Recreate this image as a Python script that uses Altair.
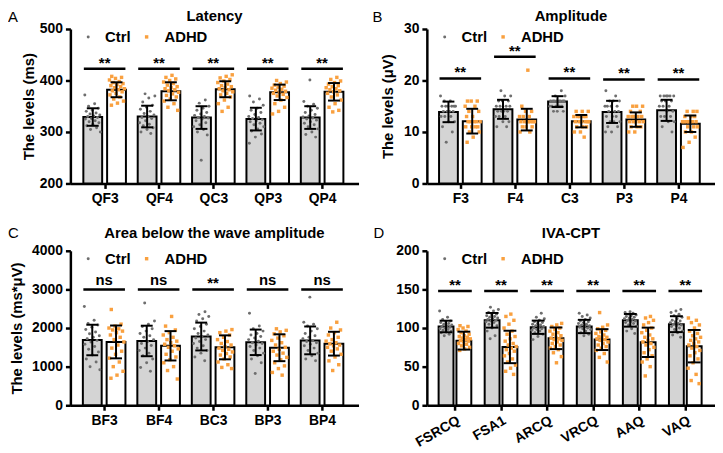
import altair as alt
import pandas as pd

FONT = "Arial"
ORANGE = "#f9a03f"
GRAY_PT = "#6e6e6e"
BAR_GRAY = "#d4d4d4"

# ---------------- Panel A : Latency ----------------
a_cats = ["QF3", "QF4", "QC3", "QP3", "QP4"]
a_ctrl_mean = [329, 330, 328, 325, 328]
a_ctrl_sd = [17, 21, 22, 22, 22]
a_adhd_mean = [382, 379, 383, 377, 378]
a_adhd_sd = [14.5, 17.5, 15.5, 15, 17]
a_sig = ["**", "**", "**", "**", "**"]
a_sig_y = [423, 423, 423, 423, 423]
a_ctrl_pts = [
    [372, 355, 350, 346, 342, 340, 337, 335, 333, 331, 330, 328, 326, 325, 322, 320, 318, 315, 312, 308, 305, 300],
    [374, 370, 366, 358, 352, 348, 344, 340, 336, 333, 330, 328, 326, 322, 318, 315, 312, 308, 305, 300, 297],
    [362, 356, 350, 346, 342, 338, 335, 332, 330, 328, 327, 325, 322, 318, 314, 310, 305, 300, 294, 245],
    [370, 364, 358, 352, 346, 342, 338, 334, 330, 328, 326, 324, 322, 320, 317, 314, 310, 306, 302, 296, 290, 278],
    [401, 359, 354, 350, 346, 342, 338, 334, 331, 329, 327, 325, 323, 320, 317, 314, 310, 306, 300, 295, 290],
]
a_adhd_pts = [
    [408, 406, 404, 401, 398, 396, 394, 392, 390, 388, 386, 384, 382, 380, 378, 375, 372, 368, 364, 360, 356, 352],
    [410, 406, 403, 400, 397, 394, 391, 388, 386, 384, 382, 380, 377, 374, 371, 368, 364, 360, 355, 348, 342],
    [411, 408, 405, 402, 399, 396, 393, 390, 388, 386, 384, 382, 380, 378, 375, 372, 368, 362, 355, 348, 340],
    [400, 397, 394, 391, 389, 387, 385, 383, 381, 379, 377, 375, 373, 370, 367, 362, 355, 348, 340, 335],
    [406, 402, 399, 396, 393, 390, 388, 386, 384, 382, 380, 378, 375, 372, 368, 362, 355, 348, 342, 339],
]

# ---------------- Panel B : Amplitude ----------------
b_cats = ["F3", "F4", "C3", "P3", "P4"]
b_ctrl_mean = [13.9, 14.4, 15.9, 13.9, 14.2]
b_ctrl_sd = [2.0, 1.85, 1.05, 2.15, 2.05]
b_adhd_mean = [12.1, 12.4, 12.1, 12.4, 11.6]
b_adhd_sd = [2.4, 2.1, 1.2, 1.4, 1.6]
b_sig = ["**", "**", "**", "**", "**"]
b_sig_y = [20.4, 24.6, 20.4, 20.2, 20.2]
b_ctrl_pts = [
    [17, 16, 16, 15, 15, 15, 15, 15, 15, 14, 14, 14, 14, 13, 13, 13, 12, 12, 11, 10, 8],
    [18, 17, 17, 16, 16, 16, 15, 15, 15, 15, 14, 14, 14, 14, 13, 13, 13, 12, 12, 11, 11],
    [18, 17, 17, 16, 16, 16, 16, 16, 16, 16, 16, 15, 15, 15, 15, 15, 15, 14, 14, 14],
    [18, 17, 16, 16, 16, 15, 15, 15, 15, 14, 14, 14, 13, 13, 13, 12, 12, 12, 11, 11, 10, 10],
    [17, 17, 17, 17, 17, 17, 16, 16, 16, 15, 15, 15, 14, 14, 13, 13, 13, 12, 12, 11, 10],
]
b_adhd_pts = [
    [16, 16, 16, 15, 15, 14, 14, 13, 13, 12, 12, 12, 12, 12, 11, 11, 11, 11, 10, 10, 9, 8],
    [22, 15, 14, 14, 13, 13, 13, 12, 12, 12, 12, 12, 12, 12, 11, 11, 11, 10, 10],
    [14, 14, 14, 13, 13, 13, 13, 13, 12, 12, 12, 12, 12, 12, 11, 11, 11, 10, 10, 9],
    [15, 15, 15, 14, 14, 13, 13, 13, 13, 13, 12, 12, 12, 12, 12, 11, 11, 11, 10, 10],
    [14, 14, 14, 13, 13, 13, 12, 12, 12, 12, 12, 12, 12, 11, 11, 11, 10, 10, 9, 8, 7],
]

# ---------------- Panel C : Area below the wave amplitude ----------------
c_cats = ["BF3", "BF4", "BC3", "BP3", "BP4"]
c_ctrl_mean = [1690, 1665, 1780, 1630, 1680]
c_ctrl_sd = [395, 395, 360, 330, 360]
c_adhd_mean = [1640, 1540, 1500, 1490, 1595]
c_adhd_sd = [425, 380, 310, 348, 308]
c_sig = ["ns", "ns", "**", "ns", "ns"]
c_sig_y = [3000, 3000, 3000, 3000, 3000]
c_ctrl_pts = [
    [2560, 2200, 2120, 2080, 2020, 1960, 1900, 1850, 1800, 1760, 1720, 1680, 1640, 1580, 1520, 1450, 1380, 1300, 1200, 1120, 1000, 920],
    [2650, 2180, 2100, 2040, 1980, 1920, 1860, 1800, 1760, 1700, 1650, 1600, 1550, 1480, 1420, 1350, 1280, 1200, 1100, 980, 880],
    [2420, 2350, 2300, 2240, 2180, 2100, 2040, 1980, 1920, 1860, 1820, 1780, 1740, 1700, 1650, 1600, 1540, 1480, 1420, 1350, 1250, 1150],
    [2380, 2050, 1980, 1920, 1860, 1820, 1780, 1740, 1700, 1660, 1620, 1600, 1560, 1520, 1480, 1420, 1350, 1280, 1200, 1100, 820],
    [2800, 2150, 2100, 2050, 1980, 1920, 1860, 1800, 1760, 1720, 1680, 1650, 1620, 1580, 1540, 1480, 1420, 1350, 1280, 1200, 1150],
]
c_adhd_pts = [
    [2480, 2100, 2050, 2000, 1980, 1950, 1920, 1880, 1820, 1760, 1700, 1640, 1560, 1480, 1400, 1320, 1220, 1120, 1000, 880, 780, 700],
    [2300, 2050, 1950, 1880, 1820, 1760, 1700, 1660, 1620, 1580, 1540, 1500, 1460, 1400, 1320, 1250, 1180, 1100, 1000, 900, 680],
    [1960, 1920, 1880, 1820, 1760, 1700, 1650, 1600, 1560, 1520, 1480, 1450, 1420, 1380, 1340, 1300, 1250, 1200, 1120, 1050, 980, 950],
    [1980, 1940, 1900, 1850, 1800, 1740, 1680, 1620, 1560, 1500, 1450, 1400, 1350, 1300, 1240, 1180, 1100, 1020, 950, 850, 780],
    [2150, 2000, 1950, 1880, 1820, 1760, 1700, 1660, 1620, 1590, 1560, 1540, 1500, 1460, 1400, 1320, 1250, 1150, 1050, 900],
]

# ---------------- Panel D : IVA-CPT ----------------
d_cats = ["FSRCQ", "FSA1", "ARCQ", "VRCQ", "AAQ", "VAQ"]
d_ctrl_mean = [102, 110, 101, 102, 110, 105]
d_ctrl_sd = [7.5, 9.5, 8.6, 8.6, 8.2, 10.3]
d_adhd_mean = [83.7, 75.5, 86.7, 85, 81.5, 76.5]
d_adhd_sd = [11.6, 21, 14, 13.5, 19, 21]
d_sig = ["**", "**", "**", "**", "**", "**"]
d_sig_y = [148, 148, 148, 148, 148, 148]
d_ctrl_pts = [
    [122, 114, 111, 109, 108, 107, 106, 105, 104, 103, 102, 101, 100, 99, 98, 97, 96, 95, 94, 92, 90],
    [127, 124, 122, 120, 118, 117, 116, 115, 114, 113, 112, 111, 110, 109, 108, 107, 105, 103, 100, 96, 90, 86],
    [119, 114, 112, 110, 108, 107, 106, 105, 104, 103, 102, 101, 100, 99, 98, 97, 96, 94, 92, 89, 85],
    [119, 117, 115, 113, 111, 109, 108, 107, 106, 105, 104, 103, 102, 101, 100, 99, 98, 96, 94, 92, 90],
    [121, 120, 119, 118, 117, 116, 115, 114, 113, 112, 111, 110, 109, 108, 107, 106, 104, 102, 99, 96, 93],
    [124, 122, 120, 118, 116, 114, 112, 110, 109, 108, 107, 106, 105, 104, 103, 102, 100, 98, 96, 94, 91, 88],
]
d_adhd_pts = [
    [103, 102, 100, 98, 96, 94, 92, 90, 89, 88, 87, 86, 85, 84, 83, 82, 80, 79, 77, 75, 73, 71],
    [118, 115, 110, 105, 100, 96, 92, 89, 86, 83, 80, 78, 76, 74, 72, 70, 67, 64, 60, 56, 52, 48, 44, 40],
    [106, 104, 102, 100, 98, 96, 94, 92, 90, 88, 87, 86, 85, 84, 82, 80, 78, 76, 74, 72, 68, 63, 55],
    [120, 104, 101, 99, 97, 95, 93, 91, 89, 88, 87, 86, 85, 84, 82, 80, 78, 76, 74, 71, 67, 62, 56],
    [115, 113, 110, 107, 104, 100, 97, 94, 91, 88, 86, 84, 82, 80, 78, 75, 72, 68, 64, 60, 56, 50, 38],
    [113, 110, 107, 104, 100, 96, 93, 90, 88, 86, 84, 82, 80, 78, 76, 74, 71, 68, 64, 60, 55, 48, 40, 32, 28],
]

W, H = 291, 156


def make_panel(cats, cm, cs, am, asd, sig, sig_y, cpts, apts, ydom, yticks,
               ytitle, title, letter, xdom, bar_px, cap_px, sig_px, jit_px,
               title_pad, letter_dx, title_y, letter_y, label_angle=0):
    n = len(cats)
    ppu = W / (xdom[1] - xdom[0])
    ppy = H / (ydom[1] - ydom[0])
    inner, outer = bar_px
    bars, caps, pts_c, pts_a, sigs = [], [], [], [], []
    for i in range(n):
        for side, grp, m, s, arr, store in [(-1, "Ctrl", cm[i], cs[i], cpts[i], pts_c),
                                           (1, "ADHD", am[i], asd[i], apts[i], pts_a)]:
            e0 = i + side * inner / ppu
            e1 = i + side * outer / ppu
            xc = i + side * (inner + outer) / 2 / ppu
            bars.append(dict(x0=min(e0, e1), x1=max(e0, e1), xc=xc, mean=m,
                             lo=m - s, hi=m + s, group=grp))
            for yv in (m - s, m + s):
                caps.append(dict(x0=xc - cap_px / ppu, x1=xc + cap_px / ppu, y=yv))
            for k, v in enumerate(arr):
                jit = ((k * 0.618034 + i * 0.37 + (0.2 if side > 0 else 0)) % 1 - 0.5) * 2 * jit_px / ppu
                store.append(dict(x=xc + jit, y=v))
        lab = sig[i]
        dpx = 1 if lab == "**" else 4
        sigs.append(dict(x0=i - sig_px / ppu, x1=i + sig_px / ppu, xc=i, y=sig_y[i],
                         ty=sig_y[i] + dpx / ppy, label=lab))
    bars_df = pd.DataFrame(bars)
    caps_df = pd.DataFrame(caps)
    sig_df = pd.DataFrame(sigs)

    xs = alt.Scale(domain=xdom, nice=False, zero=False)
    ys = alt.Scale(domain=ydom, nice=False, zero=False)
    label_list = "[" + ",".join("'%s'" % c for c in cats) + "]"
    axis_common = dict(grid=False, domainColor="black", domainWidth=2.5,
                       tickColor="black", tickWidth=2.5, tickSize=5,
                       labelFont=FONT, labelFontSize=14, labelFontWeight="bold",
                       labelColor="black", labelFlush=False, labelOverlap=False)
    xaxis_kw = dict(values=list(range(n)), labelExpr=label_list + "[datum.value]",
                    title=None, labelPadding=3, **axis_common)
    if label_angle:
        xaxis_kw.update(labelAngle=label_angle, labelAlign="right", labelBaseline="top")
    xaxis = alt.Axis(**xaxis_kw)
    yaxis_kw = dict(values=yticks, labelPadding=3, format="d", **axis_common)
    if ytitle:
        yaxis_kw.update(title=ytitle, titleFont=FONT, titleFontSize=15,
                        titleFontWeight="bold", titleColor="black", titlePadding=title_pad)
    else:
        yaxis_kw.update(title=None)
    yaxis = alt.Axis(**yaxis_kw)

    def X(f):
        return alt.X(f, type="quantitative", scale=xs, axis=xaxis)

    def Y(f):
        return alt.Y(f, type="quantitative", scale=ys, axis=yaxis)

    bar_layer = alt.Chart(bars_df).mark_bar(stroke="black", strokeWidth=2).encode(
        x=X("x0"), x2="x1", y=Y("mean"), y2=alt.datum(ydom[0]),
        fill=alt.Fill("group:N", scale=alt.Scale(domain=["Ctrl", "ADHD"], range=[BAR_GRAY, "#ffffff"]), legend=None),
    )
    pc = alt.Chart(pd.DataFrame(pts_c)).mark_point(
        filled=True, shape="circle", size=9, color=GRAY_PT, opacity=1, strokeWidth=0
    ).encode(x=X("x"), y=Y("y"))
    pa = alt.Chart(pd.DataFrame(pts_a)).mark_point(
        filled=True, shape="square", size=12, color=ORANGE, opacity=1, strokeWidth=0
    ).encode(x=X("x"), y=Y("y"))
    err = alt.Chart(bars_df).mark_rule(color="black", strokeWidth=2).encode(
        x=X("xc"), y=Y("lo"), y2="hi")
    cap = alt.Chart(caps_df).mark_rule(color="black", strokeWidth=2).encode(
        x=X("x0"), x2="x1", y=Y("y"))
    sline = alt.Chart(sig_df).mark_rule(color="black", strokeWidth=2.5).encode(
        x=X("x0"), x2="x1", y=Y("y"))
    stext = alt.Chart(sig_df).mark_text(
        font=FONT, fontSize=15, fontWeight="bold", baseline="alphabetic", align="center", color="black"
    ).encode(x=X("xc"), y=Y("ty"), text="label:N")

    leg_c = alt.Chart(pd.DataFrame({"a": [0]})).mark_point(
        filled=True, shape="circle", size=9, color=GRAY_PT, opacity=1, strokeWidth=0
    ).encode(x=alt.value(18), y=alt.value(8))
    leg_a = alt.Chart(pd.DataFrame({"a": [0]})).mark_point(
        filled=True, shape="square", size=12, color=ORANGE, opacity=1, strokeWidth=0
    ).encode(x=alt.value(77), y=alt.value(8))
    leg_t1 = alt.Chart(pd.DataFrame({"t": ["Ctrl"]})).mark_text(
        font=FONT, fontSize=15, fontWeight="bold", align="left", baseline="middle", color="black"
    ).encode(x=alt.value(35), y=alt.value(8), text="t:N")
    leg_t2 = alt.Chart(pd.DataFrame({"t": ["ADHD"]})).mark_text(
        font=FONT, fontSize=15, fontWeight="bold", align="left", baseline="middle", color="black"
    ).encode(x=alt.value(95), y=alt.value(8), text="t:N")
    ttl = alt.Chart(pd.DataFrame({"t": [title]})).mark_text(
        font=FONT, fontSize=15, fontWeight="bold", align="center", baseline="middle", color="black"
    ).encode(x=alt.value(W / 2), y=alt.value(title_y), text="t:N")
    let = alt.Chart(pd.DataFrame({"t": [letter]})).mark_text(
        font=FONT, fontSize=15, align="left", baseline="middle", color="black"
    ).encode(x=alt.value(letter_dx), y=alt.value(letter_y), text="t:N")

    return alt.layer(bar_layer, pc, pa, err, cap, sline, stext,
                     leg_c, leg_a, leg_t1, leg_t2, ttl, let).properties(width=W, height=H)


pA = make_panel(a_cats, a_ctrl_mean, a_ctrl_sd, a_adhd_mean, a_adhd_sd, a_sig, a_sig_y,
                a_ctrl_pts, a_adhd_pts, [200, 500], [200, 300, 400, 500],
                "The levels (ms)", "Latency", "A", [-0.63, 4.67],
                (2.5, 21.5), 6, 21, 8, 3, -63, -13, -12.5)
pB = make_panel(b_cats, b_ctrl_mean, b_ctrl_sd, b_adhd_mean, b_adhd_sd, b_sig, b_sig_y,
                b_ctrl_pts, b_adhd_pts, [0, 30], [0, 10, 20, 30],
                "The levels (μV)", "Amplitude", "B", [-0.614, 4.67],
                (2.5, 21.5), 6, 21, 8, 8, -55, -13, -12.5)
pC = make_panel(c_cats, c_ctrl_mean, c_ctrl_sd, c_adhd_mean, c_adhd_sd, c_sig, c_sig_y,
                c_ctrl_pts, c_adhd_pts, [0, 4000], [0, 1000, 2000, 3000, 4000],
                "The levels (ms*μV)", "Area below the wave amplitude", "C", [-0.62, 4.67],
                (2.5, 21.5), 6, 21, 8, 7, -63, -18, -18)
pD = make_panel(d_cats, d_ctrl_mean, d_ctrl_sd, d_adhd_mean, d_adhd_sd, d_sig, d_sig_y,
                d_ctrl_pts, d_adhd_pts, [0, 200], [0, 50, 100, 150, 200],
                None, "IVA-CPT", "D", [-0.61, 5.645],
                (1.5, 16.5), 6.5, 17, 6.5, 0, -54, -18, -18, label_angle=330)

chart = alt.vconcat(
    alt.hconcat(pA, pB, spacing=14),
    alt.hconcat(pC, pD, spacing=15),
    spacing=21,
    padding={"left": 0, "top": -1, "right": 0, "bottom": 0},
).configure_view(stroke=None)

chart.save("out.html", embed_options={"renderer": "svg", "actions": False})
